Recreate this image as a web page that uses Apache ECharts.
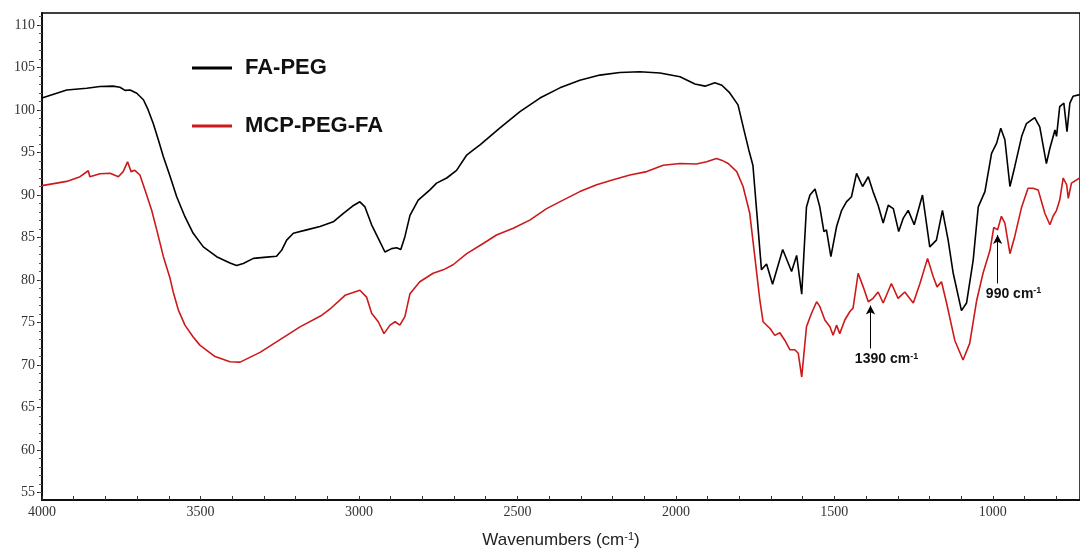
<!DOCTYPE html>
<html><head><meta charset="utf-8">
<script src="https://cdn.jsdelivr.net/npm/echarts@6/dist/echarts.min.js"></script>
<style>html,body{margin:0;padding:0;background:#fff}#c{width:1080px;height:550px}</style>
</head><body><div id="c"></div>
<script>
const faWavenumbers = [4000,3922,3859,3817,3776,3754,3738,3722,3701,3680,3665,3649,3633,3617,3596,3575,3549,3523,3491,3449,3407,3386,3365,3333,3291,3260,3244,3228,3207,3165,3123,3081,3050,3020,2997,2981,2960,2939,2918,2897,2881,2868,2855,2839,2813,2776,2755,2723,2692,2660,2639,2618,2555,2492,2429,2366,2303,2240,2177,2114,2050,1987,1940,1908,1877,1855,1830,1804,1785,1770,1757,1744,1730,1714,1695,1663,1635,1619,1603,1588,1577,1561,1546,1533,1525,1511,1493,1477,1462,1446,1430,1411,1393,1378,1362,1346,1330,1314,1297,1283,1267,1248,1222,1199,1178,1159,1141,1125,1099,1083,1062,1046,1025,1004,988,975,962,946,931,909,894,868,852,831,820,804,799,789,776,766,757,747,726];
const faValues = [101.4,102.35,102.55,102.75,102.8,102.67,102.3,102.35,101.96,101.2,100.0,98.4,96.5,94.5,92.2,89.8,87.45,85.5,83.9,82.75,82.0,81.7,81.95,82.55,82.7,82.8,83.5,84.7,85.5,85.9,86.3,86.85,87.8,88.7,89.2,88.6,86.5,84.9,83.3,83.7,83.8,83.6,85.1,87.6,89.4,90.6,91.4,92.0,92.9,94.7,95.3,95.9,97.9,99.8,101.4,102.6,103.5,104.1,104.4,104.5,104.35,103.9,103.05,102.8,103.2,102.9,102.0,100.6,97.6,95.3,93.5,87.6,81.2,81.9,79.5,83.6,81.0,82.9,78.35,88.6,90.0,90.7,88.6,85.7,85.9,82.75,86.3,88.2,89.2,89.8,92.55,91.0,92.15,90.4,88.8,86.7,88.8,88.4,85.7,87.25,88.2,86.5,90.0,83.9,84.7,88.2,84.7,80.8,76.4,77.3,82.35,88.6,90.4,94.9,96.1,97.85,96.5,91.0,93.3,96.9,98.4,99.1,98.0,93.7,95.5,97.65,96.9,100.4,100.8,97.45,100.8,101.6,101.8];
const mcpWavenumbers = [4000,3922,3880,3854,3849,3817,3785,3759,3744,3730,3719,3707,3691,3675,3654,3638,3617,3596,3586,3570,3549,3523,3502,3454,3407,3375,3312,3249,3186,3120,3091,3044,2997,2976,2960,2939,2921,2902,2886,2871,2855,2839,2808,2766,2734,2703,2660,2608,2566,2513,2461,2408,2356,2303,2250,2198,2145,2092,2040,1987,1935,1903,1872,1856,1835,1808,1788,1767,1751,1735,1725,1703,1688,1672,1656,1640,1625,1614,1603,1588,1572,1556,1546,1530,1514,1504,1493,1483,1467,1451,1441,1425,1409,1393,1378,1362,1346,1320,1299,1278,1251,1230,1206,1188,1176,1162,1146,1120,1094,1073,1051,1031,1009,997,985,973,962,946,931,909,889,873,857,836,820,810,799,789,778,767,762,752,726];
const mcpValues = [91.1,91.6,92.15,92.85,92.15,92.5,92.55,92.15,92.75,93.9,92.75,92.9,92.35,90.6,88.2,85.9,82.75,80.2,78.6,76.5,74.7,73.3,72.35,71.0,70.4,70.35,71.5,73.0,74.5,75.8,76.6,78.2,78.8,78.0,76.1,75.1,73.7,74.7,75.1,74.7,75.7,78.4,79.8,80.8,81.2,81.8,83.1,84.3,85.3,86.1,87.05,88.4,89.4,90.4,91.2,91.8,92.35,92.75,93.5,93.7,93.65,93.9,94.3,94.1,93.7,92.75,91.0,87.85,82.75,77.6,75.1,74.3,73.5,73.8,72.9,71.8,71.8,71.4,68.6,74.5,76.1,77.45,76.9,75.3,74.5,73.5,74.7,73.7,75.3,76.3,76.7,80.8,79.2,77.45,77.85,78.6,77.3,79.6,77.85,78.6,77.3,79.6,82.55,80.4,79.2,79.8,77.3,72.9,70.6,72.55,77.6,80.8,83.5,86.2,85.9,87.5,86.7,83.1,85.1,88.6,90.8,90.8,90.6,87.85,86.5,87.5,88.2,89.4,92.0,91.2,89.6,91.4,92.0];
const xTickLabels = [4000,3500,3000,2500,2000,1500,1000];
const yTickLabels = [55,60,65,70,75,80,85,90,95,100,105,110];
const annotations = [
  {name:'1390', x:1386, from:71.95, to:77.0},
  {name:'990', x:985, from:79.6, to:85.3}
];

const zip = (a,b)=>a.map((v,i)=>[v,b[i]]);
const xMinor = []; for (let w=4000; w>=800; w-=100) xMinor.push(w);
const yMinor = []; for (let v=55; v<=111; v++) yMinor.push(v);

const chart = echarts.init(document.getElementById('c'));
const serif = '"Liberation Serif","DejaVu Serif",serif';
const sans = '"Liberation Sans","Noto Sans",Arial,sans-serif';
const supRich = {sup:{fontSize:9, verticalAlign:'top', padding:[0,0,7,0], fontWeight:'bold', fontFamily:sans, color:'#111'}};

chart.setOption({
  animation:false,
  backgroundColor:'#fff',
  grid:{left:42, right:0, top:13, bottom:50, outerBoundsMode:'none', containLabel:false, show:true, borderColor:'#000', borderWidth:1.5, backgroundColor:'transparent'},
  legend:{
    orient:'vertical', left:187, top:49, itemGap:30, itemWidth:40, itemHeight:3, icon:'rect',
    textStyle:{fontFamily:sans, fontWeight:'bold', fontSize:22, lineHeight:28, color:'#111', padding:[0,0,0,8]},
    data:['FA-PEG','MCP-PEG-FA']
  },
  xAxis:{
    type:'value', inverse:true, min:725, max:4000,
    name:'Wavenumbers (cm{s|-1})', nameLocation:'middle', nameGap:31,
    nameTextStyle:{fontFamily:sans, fontSize:17, color:'#222', rich:{s:{fontSize:11, verticalAlign:'top', padding:[0,0,8,0], fontFamily:sans, color:'#222'}}},
    axisLine:{lineStyle:{color:'#111', width:2}},
    axisTick:{inside:true, length:4, customValues:xMinor, lineStyle:{color:'#333'}},
    axisLabel:{customValues:xTickLabels, formatter:v=>String(v), fontFamily:serif, fontSize:14, color:'#333', margin:5},
    splitLine:{show:false}
  },
  yAxis:[{
    type:'value', min:54.14, max:111.4, position:'left',
    axisLine:{show:true, lineStyle:{color:'#111', width:2}},
    axisTick:{show:true, length:5, customValues:yTickLabels, lineStyle:{color:'#222'}},
    axisLabel:{customValues:yTickLabels, formatter:v=>String(v), fontFamily:serif, fontSize:14, color:'#333', margin:7},
    splitLine:{show:false}
  },{
    type:'value', min:54.14, max:111.4, position:'left', offset:0,
    axisLine:{show:false},
    axisTick:{show:true, length:3, customValues:yMinor, lineStyle:{color:'#555'}},
    axisLabel:{show:false},
    splitLine:{show:false}
  }],
  series:[{
    name:'FA-PEG', type:'line', showSymbol:false, symbol:'none',
    data:zip(faWavenumbers, faValues),
    lineStyle:{color:'#000', width:1.6}, itemStyle:{color:'#000'}
  },{
    name:'MCP-PEG-FA', type:'line', showSymbol:false, symbol:'none',
    data:zip(mcpWavenumbers, mcpValues),
    lineStyle:{color:'#cc1a1a', width:1.6}, itemStyle:{color:'#cc1a1a'},
    markLine:{
      silent:true, symbol:['none','arrow'], symbolSize:[7,9],
      lineStyle:{color:'#000', width:1, type:'solid'},
      label:{show:true, position:'start', distance:3, fontFamily:sans, fontWeight:'bold', fontSize:14, color:'#111',
        formatter:p=>p.name+' cm{sup|-1}', rich:supRich, offset:[16,0]},
      data:annotations.map(a=>[{name:a.name, coord:[a.x,a.from]},{coord:[a.x,a.to]}])
    }
  }]
});
</script></body></html>
